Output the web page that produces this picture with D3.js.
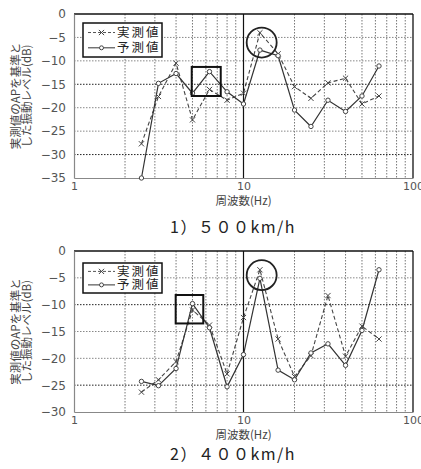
<!DOCTYPE html>
<html><head><meta charset="utf-8">
<script src="https://cdn.jsdelivr.net/npm/d3@7"></script>
<style>
html,body{margin:0;padding:0;background:#fff;}
svg{display:block;font-family:"Noto Sans CJK JP","Noto Sans",sans-serif;}
</style></head>
<body>
<svg id="c" width="421" height="469"></svg>
<script>
// ---- data ----
const freqs = [2.5, 3.15, 4, 5, 6.3, 8, 10, 12.5, 16, 20, 25, 31.5, 40, 50, 63];
const measured500  = [-27.7, -17.6, -10.5, -22.6, -16.1, -18.4, -16.9, -4.0, -8.5, -15.5, -18.0, -14.7, -13.7, -19.2, -17.5];
const predicted500 = [-35.0, -14.8, -12.7, -16.9, -12.3, -16.6, -19.2, -7.7, -8.9, -20.5, -24.0, -18.4, -20.8, -17.5, -11.1];
const measured400  = [-26.3, -24.0, -20.6, -11.0, -13.8, -22.9, -12.4, -3.5, -16.4, -23.4, -19.5, -8.3, -19.6, -14.0, -16.4];
const predicted400 = [-24.3, -25.1, -21.9, -9.8, -14.3, -25.3, -19.3, -5.1, -22.2, -24.0, -19.0, -17.3, -21.3, -14.8, -3.5];
const xTickValues = [1, 10, 100];
const yTicks500 = [0, -5, -10, -15, -20, -25, -30, -35];
const yTicks400 = [0, -5, -10, -15, -20, -25, -30];
const seriesNames = ["実測値", "予測値"];
const yLabelLines = ["実測値のAPを基準と", "した振動レベル(dB)"];
const xLabel = "周波数(Hz)";
const captions = ["1）５００km/h", "2）４００km/h"];
// annotation regions in data units: [fMin, fMax, dbTop, dbBottom] and circle [f, db]
const box500 = [4.95, 7.34, -11.3, -17.5];
const circle500 = [12.8, -6.1];
const box400 = [3.98, 5.79, -8.2, -13.5];
const circle400 = [12.8, -4.5];

const svg = d3.select("#c");

function drawChart(o) {
  const g = svg.append("g");
  const x = d3.scaleLog().domain([1, 100]).range([o.left, o.right]);
  const y = d3.scaleLinear().domain([o.yTicks[0], o.yTicks[o.yTicks.length - 1]]).range([o.top, o.bottom]);

  // vertical grid (minor)
  const minor = [];
  [1, 10].forEach(d => { for (let k = 2; k <= 9; k++) minor.push(d * k); });
  g.selectAll(".vg").data(minor).enter().append("line")
    .attr("x1", d => x(d)).attr("x2", d => x(d))
    .attr("y1", o.top).attr("y2", o.bottom)
    .attr("stroke", "#777").attr("stroke-width", 1).attr("stroke-dasharray", "1.5,1.5");
  // horizontal grid
  g.selectAll(".hg").data(o.yTicks.slice(1, -1)).enter().append("line")
    .attr("x1", o.left).attr("x2", o.right)
    .attr("y1", d => y(d)).attr("y2", d => y(d))
    .attr("stroke", d => o.darkGrid.includes(d) ? "#222" : "#888")
    .attr("stroke-width", 1).attr("stroke-dasharray", "1.5,1.5");
  // decade line at 10
  g.append("line").attr("x1", x(10)).attr("x2", x(10)).attr("y1", o.top).attr("y2", o.bottom)
    .attr("stroke", "#111").attr("stroke-width", 1.2);

  // frame
  g.append("line").attr("x1", o.left).attr("x2", o.right).attr("y1", o.top).attr("y2", o.top).attr("stroke", "#111").attr("stroke-width", 1.3);
  g.append("line").attr("x1", o.right).attr("x2", o.right).attr("y1", o.top).attr("y2", o.bottom).attr("stroke", "#111").attr("stroke-width", 1.3);

  // axes
  const yAxis = d3.axisLeft(y).tickValues(o.yTicks).tickSize(0).tickPadding(8).tickFormat(d => d === 0 ? "0" : "\u2212" + Math.abs(d));
  const ya = g.append("g").attr("transform", `translate(${o.left},0)`).call(yAxis);
  ya.select(".domain").attr("stroke", "#888").attr("stroke-width", 1.2);
  ya.selectAll("text").attr("fill", "#555").style("font-size", "12px").style("font-family", "'DejaVu Sans',sans-serif");

  const xAxis = d3.axisBottom(x).tickValues(xTickValues).tickSize(0).tickPadding(4).tickFormat(d3.format("d"));
  const xa = g.append("g").attr("transform", `translate(0,${o.bottom})`).call(xAxis);
  xa.select(".domain").attr("stroke", "#888").attr("stroke-width", 1.2);
  xa.selectAll("text").attr("fill", "#555").style("font-size", "11px").style("font-family", "'DejaVu Sans',sans-serif");

  // lines
  const pts = (vals) => freqs.map((f, i) => [f, vals[i]]);
  const line = d3.line().x(d => x(d[0])).y(d => y(d[1]));
  g.append("path").datum(pts(o.measured)).attr("d", line)
    .attr("fill", "none").attr("stroke", "#444").attr("stroke-width", 1.1).attr("stroke-dasharray", "4,2.5");
  g.append("path").datum(pts(o.predicted)).attr("d", line)
    .attr("fill", "none").attr("stroke", "#333").attr("stroke-width", 1.2);
  const s = 2.6;
  g.selectAll(".xm").data(pts(o.measured)).enter().append("path")
    .attr("d", d => { const cx = x(d[0]), cy = y(d[1]); return `M${cx - s},${cy - s}L${cx + s},${cy + s}M${cx - s},${cy + s}L${cx + s},${cy - s}`; })
    .attr("stroke", "#444").attr("stroke-width", 1);
  g.selectAll(".cm").data(pts(o.predicted)).enter().append("circle")
    .attr("cx", d => x(d[0])).attr("cy", d => y(d[1])).attr("r", 2.2)
    .attr("fill", "#fff").attr("stroke", "#444").attr("stroke-width", 1);

  // annotations
  g.append("rect").attr("x", x(o.box[0])).attr("y", y(o.box[2]))
    .attr("width", x(o.box[1]) - x(o.box[0])).attr("height", y(o.box[3]) - y(o.box[2]))
    .attr("fill", "none").attr("stroke", "#111").attr("stroke-width", 2);
  g.append("circle").attr("cx", x(o.circle[0])).attr("cy", y(o.circle[1])).attr("r", 15)
    .attr("fill", "none").attr("stroke", "#222").attr("stroke-width", 1.8);

  // legend
  const lg = g.append("g").attr("transform", `translate(${o.left + 9},${o.top + o.legendDy})`);
  lg.append("rect").attr("width", 79).attr("height", o.legendH).attr("fill", "#fff").attr("stroke", "#111").attr("stroke-width", 1.5);
  const rows = [o.legendH * 0.28, o.legendH * 0.73];
  lg.append("line").attr("x1", 5).attr("x2", 32).attr("y1", rows[0]).attr("y2", rows[0]).attr("stroke", "#555").attr("stroke-dasharray", "3,2");
  lg.append("path").attr("d", `M${18.5 - s},${rows[0] - s}L${18.5 + s},${rows[0] + s}M${18.5 - s},${rows[0] + s}L${18.5 + s},${rows[0] - s}`).attr("stroke", "#444");
  lg.append("line").attr("x1", 5).attr("x2", 32).attr("y1", rows[1]).attr("y2", rows[1]).attr("stroke", "#333");
  lg.append("circle").attr("cx", 18.5).attr("cy", rows[1]).attr("r", 2).attr("fill", "#fff").attr("stroke", "#444");
  seriesNames.forEach((n, i) => {
    lg.append("text").attr("x", 34).attr("y", rows[i]).attr("dy", "0.36em")
      .style("font-size", "12.5px").style("letter-spacing", "2px").attr("fill", "#222").text(n);
  });

  // y label
  const cy = (o.top + o.bottom) / 2;
  yLabelLines.forEach((t, i) => {
    g.append("text").attr("transform", `translate(${16 + i * 11},${cy}) rotate(-90)`)
      .attr("text-anchor", "middle").attr("dy", "0.36em")
      .style("font-size", "11.5px").attr("fill", "#444").text(t);
  });
  // x label
  g.append("text").attr("x", x(10)).attr("y", o.bottom + o.xLabelDy).attr("text-anchor", "middle")
    .style("font-size", "11.5px").attr("fill", "#444").text(xLabel);
  // caption
  g.append("text").attr("x", 170).attr("y", o.bottom + o.captionDy).style("font-size", "16px")
    .style("letter-spacing", "1.5px").attr("fill", "#222").text(o.caption);
}

drawChart({left: 74, right: 413, top: 14, bottom: 178, yTicks: yTicks500, darkGrid: [-15, -30],
  measured: measured500, predicted: predicted500, box: box500, circle: circle500,
  legendDy: 9, legendH: 34, xLabelDy: 27, captionDy: 55, caption: captions[0]});
drawChart({left: 74, right: 413, top: 251, bottom: 412, yTicks: yTicks400, darkGrid: [-10, -25],
  measured: measured400, predicted: predicted400, box: box400, circle: circle400,
  legendDy: 12, legendH: 30, xLabelDy: 27, captionDy: 48, caption: captions[1]});
</script>
</body></html>
